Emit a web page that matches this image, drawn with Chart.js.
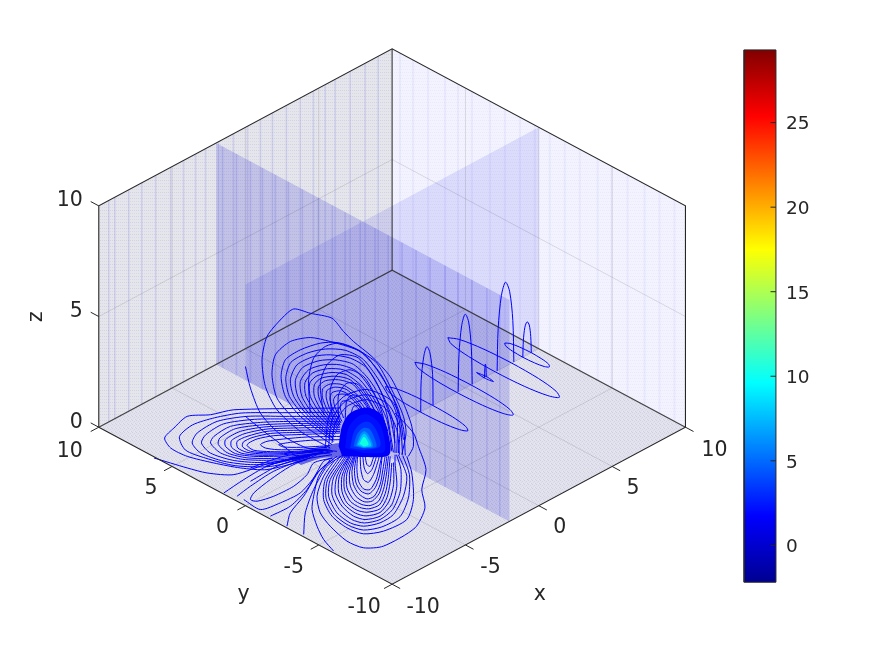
<!DOCTYPE html>
<html><head><meta charset="utf-8">
<style>html,body{margin:0;padding:0;background:#fff}canvas{display:block}</style>
<script src="https://cdn.jsdelivr.net/npm/chart.js@4"></script>
</head><body><canvas id="c" width="891" height="656"></canvas>
<script>
// Axis ticks
const axisTicks=[-10,-5,0,5,10];
const zTicks=[0,5,10];
const colorbarTicks=[0,5,10,15,20,25];
const colorbarRange=[-2.18,29.3];
const colorbarX=[24.0,26.17];
// Slice planes, in data units
const sliceX=-2, sliceY=0;
// Vertical mesh bands seen on each wall / slice
const leftWallBands=[-9.32,-8.91,-7.96,-7.07,-6.12,-5.1,-4.22,-3.4,-2.72,-1.84,-.82,.14,1.02,1.84,2.79,3.74,4.63,5.44,6.12,7.14,8.16,9.05];
const rightWallBands=[9.46,8.57,7.55,6.39,5.51,4.56,3.33,2.31,1.29,.27,-.75,-1.77,-2.79,-4.01,-4.97,-6.05,-7.21,-8.23,-9.25];
const sliceBands=[9.56,8.61,7.66,6.84,5.96,5.07,4.12,3.03,2.08,1.2,.18,-.84,-1.73,-2.68,-3.63,-4.59,-5.61,-6.49,-7.44,-8.46,-9.34];
// Contours, as [x-y, x+y+2.82z] readings
const fanContours=[
[[-4.22,-2.65],[-6.26,-.53],[-7.85,2.22],[-8.64,5.19],[-8.87,8.58],[-8.53,11.55],[-7.51,13.88],[-6.71,15.06],[-5.58,14.51],[-4.1,13.88],[-3.31,12.18],[-2.63,10.91],[-1.38,9],[-.14,6.46],[.77,3.07],[1.34,.11],[1.45,-2.44],[1.11,-3.71]],
[[-10,7.73],[-9.66,4.98],[-8.98,1.8],[-7.73,-.74],[-5.8,-2.65],[-3.76,-3.07]],
[[-4.1,-2.22],[-6.71,1.17],[-7.85,3.71],[-8.19,6.67],[-7.96,9.22],[-6.94,10.91],[-5.58,11.42],[-4.22,10.91],[-2.4,9.85],[-1.04,8.16],[.09,4.34],[.77,1.38],[.95,-.74],[.66,-3.5]],
[[-3.99,-1.8],[-6.26,1.38],[-7.28,3.92],[-7.57,6.46],[-7.28,8.58],[-6.26,9.85],[-4.9,10.7],[-3.76,10.78],[-2.18,9.64],[-.82,6.89],[.2,3.07],[.54,.11],[.43,-3.28]],
[[-3.99,-1.38],[-5.8,1.59],[-6.71,3.92],[-6.94,6.04],[-6.49,7.94],[-5.35,9],[-4.22,9.22],[-2.86,8.8],[-1.72,7.52],[-.59,3.92],[.09,.53],[.2,-3.28]],
[[-3.88,-.95],[-5.35,1.59],[-6.15,3.92],[-6.26,5.83],[-5.69,7.31],[-4.67,7.94],[-3.54,7.94],[-2.4,7.1],[-1.27,4.34],[-.36,.95],[-.02,-3.07]],
[[-3.76,-.53],[-4.9,1.8],[-5.58,3.92],[-5.62,5.61],[-5.12,6.55],[-4.1,6.97],[-3.08,6.67],[-1.95,4.98],[-.82,1.59],[-.25,-2.86]],
[[-3.65,-.11],[-4.56,2.01],[-5.01,3.92],[-5.01,5.19],[-4.56,5.91],[-3.65,6.04],[-2.63,5.4],[-1.5,2.44],[-.48,-2.65]],
[[-3.54,.32],[-4.22,2.22],[-4.49,3.71],[-4.44,4.68],[-3.88,5.11],[-3.08,4.77],[-1.95,2.65],[-.7,-2.44]],
[[-3.42,.74],[-3.88,2.44],[-3.99,3.5],[-3.76,4.13],[-3.08,4.13],[-2.18,2.44],[-.93,-2.22]],
[[-3.31,1.17],[-3.54,2.44],[-3.42,3.28],[-2.86,3.28],[-1.95,1.59],[-1.16,-2.01]],
[[-5.58,1.8],[-5.69,6.04],[-5.35,8.8],[-4.56,10.28],[-3.54,10.7],[-1.95,9.42],[-.59,6.04],[.43,2.22],[.77,-1.59]],
[[-4.67,1.59],[-4.9,5.61],[-4.44,7.94],[-3.54,9.22],[-2.29,8.8],[-1.04,5.61],[-.14,1.38],[.2,-2.01]],
[[-4.1,1.38],[-4.22,4.77],[-3.76,6.67],[-2.86,7.31],[-1.84,6.25],[-.82,2.65],[-.25,-1.59]],
[[-3.65,1.17],[-3.65,4.13],[-3.08,5.61],[-2.29,5.4],[-1.38,2.86],[-.59,-1.17]],
[[-3.2,.95],[-3.08,3.5],[-2.63,4.13],[-1.95,3.5],[-1.04,.53],[-.7,-.74]],
[[-2.86,1.17],[-2.63,2.65],[-2.18,2.65],[-1.38,.11]],
[[-4.1,-2.01],[-3.88,.53],[-3.08,2.65],[-1.72,3.5],[-.48,2.44],[.32,-.32],[.5,-3.5]],
[[-4.33,-2.44],[-4.1,.95],[-3.2,3.28],[-1.72,4.13],[-.25,2.86],[.54,-.11],[.72,-3.5]],
[[-4.56,-2.65],[-4.3,1.4],[-3.3,3.9],[-1.72,4.8],[0,3.3],[.75,.1],[.9,-3.6]],
[[-3.95,-1.6],[-6,1.48],[-7,3.92],[-7.25,6.25],[-6.9,8.26],[-5.8,9.43],[-4.55,9.96],[-3.2,9.8],[-1.95,8.6],[-.7,5.4],[.3,1.7],[.32,-3.28]],
[[-3.94,-1.16],[-5.6,1.59],[-6.43,3.92],[-6.6,5.94],[-6.1,7.6],[-5,8.46],[-3.88,8.58],[-2.63,8],[-1.5,5.9],[-.47,2.4],[.09,-3.2]],
[[-3.82,-.74],[-5.12,1.7],[-5.87,3.92],[-5.94,5.7],[-5.4,6.93],[-4.4,7.45],[-3.3,7.3],[-2.17,6],[-1.05,3],[-.3,-.5]],
[[-3.7,-.3],[-4.73,1.9],[-5.3,3.92],[-5.3,5.4],[-4.85,6.23],[-3.88,6.5],[-2.85,6.03],[-1.72,3.7],[-.65,.5]],
[[-3.6,.1],[-4.39,2.1],[-4.75,3.8],[-4.72,4.93],[-4.22,5.5],[-3.36,5.4],[-2.3,4],[-1.3,1.5]],
[[-3.48,.53],[-4.05,2.33],[-4.24,3.6],[-4.1,4.4],[-3.48,4.62],[-2.6,3.7],[-1.5,1]]
];
const leftLobeContours=[
[[-16.24,-3.92],[-13.97,-5.19],[-12.61,-5.83],[-10.79,-6.04],[-8.3,-4.56],[-5.58,-3.71]],
[[-3.54,2.44],[-10.79,2.22],[-12.38,1.59],[-13.97,1.38],[-14.88,-.11],[-15.51,-1.38],[-15.1,-2.65],[-13.97,-3.71],[-12.15,-4.56],[-10.34,-5.19],[-8.53,-5.4],[-5.8,-4.13]],
[[-3.54,1.38],[-7.39,1.38],[-9.89,1.38],[-11.93,.74],[-13.29,-.74],[-13.63,-2.01],[-13.06,-3.28],[-11.47,-4.34],[-9.66,-4.77],[-7.85,-4.56],[-5.58,-3.5]],
[[-3.54,.74],[-6.94,.74],[-8.98,.61],[-11.02,.11],[-12.15,-1.17],[-12.38,-2.01],[-11.7,-3.28],[-10.34,-4.05],[-8.75,-4.22],[-6.94,-4.05],[-5.12,-3.37]],
[[-3.54,.32],[-6.71,.19],[-8.75,.02],[-10.34,-.53],[-11.36,-1.59],[-11.36,-2.44],[-10.68,-3.37],[-9.43,-3.71],[-8.07,-3.71],[-6.49,-3.62],[-4.67,-3.2]],
[[-3.54,-.32],[-6.71,-.4],[-8.53,-.53],[-9.89,-1.17],[-10.57,-1.8],[-10.52,-2.65],[-9.89,-3.2],[-8.75,-3.41],[-7.39,-3.37],[-4.67,-2.94]],
[[-3.54,-.74],[-6.49,-.95],[-8.07,-1.08],[-9.21,-1.5],[-9.77,-2.01],[-9.89,-2.35],[-9.43,-2.94],[-8.3,-3.11],[-6.94,-3.11],[-4.44,-2.78]],
[[-3.54,-1.17],[-5.8,-1.25],[-7.39,-1.5],[-8.53,-1.8],[-8.98,-2.22],[-8.64,-2.65],[-7.85,-2.86],[-6.49,-2.86],[-4.44,-2.56]],
[[-3.54,-1.59],[-5.58,-1.67],[-6.94,-1.93],[-7.73,-2.22],[-7.39,-2.52],[-6.26,-2.56],[-4.22,-2.35]],
[[-10,1.38],[-8.75,-.53],[-7.39,-2.44],[-6.26,-4.13]],
[[-3.54,1.9],[-7.5,1.85],[-10.3,1.8],[-12.1,1.2],[-13.6,.3],[-14.5,-1.2],[-14.1,-2.9],[-12.7,-3.95],[-10.7,-4.9],[-8.3,-5],[-5.7,-3.8]],
[[-3.54,1.05],[-7.2,1.05],[-9.4,1],[-11.5,.42],[-12.7,-.95],[-13,-2],[-12.4,-3.28],[-10.9,-4.2],[-9.2,-4.5],[-7.4,-4.3],[-5.35,-3.45]],
[[-3.54,.53],[-6.8,.46],[-8.85,.3],[-10.7,-.2],[-11.75,-1.38],[-11.85,-2.2],[-11.2,-3.3],[-9.9,-3.9],[-8.4,-3.98],[-6.7,-3.85],[-4.9,-3.3]],
[[-3.54,0],[-6.7,-.1],[-8.6,-.25],[-10.1,-.85],[-10.95,-1.7],[-10.95,-2.55],[-10.3,-3.3],[-9.15,-3.56],[-7.7,-3.54],[-4.67,-3.07]],
[[-3.54,-.53],[-6.6,-.67],[-8.3,-.8],[-9.55,-1.33],[-10.15,-1.9],[-10.2,-2.5],[-9.65,-3.07],[-8.5,-3.26],[-7.1,-3.24],[-4.55,-2.86]]
];
const sideLobeContours=[
[[-4.1,-3.92],[-5.35,-4.56],[-5.8,-6.04],[-6.71,-7.52],[-8.07,-8.79],[-9.21,-9.43],[-9.66,-9.22],[-9.43,-8.37],[-8.3,-6.67],[-6.94,-4.98],[-5.12,-3.5]],
[[-11.47,-8.37],[-10.11,-6.67],[-8.53,-4.98],[-6.26,-3.71],[-4.22,-3.28]],
[[-10.11,-9.22],[-8.98,-10.49],[-7.62,-9.64],[-6.26,-8.37],[-5.35,-6.46],[-4.67,-4.34],[-4.04,-3.92]],
[[-10.57,-8.79],[-9.66,-7.52],[-8.07,-5.61],[-6.03,-4.13],[-4.1,-3.5]],
[[-8.3,-11.33],[-6.94,-10.06],[-5.8,-7.94],[-5.12,-5.83],[-3.99,-4.05]],
[[-7.17,-12.61],[-6.94,-10.91],[-6.03,-8.79],[-4.9,-5.4],[-3.76,-3.71]],
[[-6.03,-13.66],[-5.92,-10.91],[-5.35,-7.94],[-4.44,-4.98],[-3.42,-3.62]],
[[-9.66,-5.19],[-7.39,-3.71],[-4.22,-2.78]],
[[-8.64,-4.98],[-6.71,-3.92],[-4.1,-2.99]],
[[-9.66,-6.89],[-7.85,-4.98],[-5.8,-3.71],[-4.04,-3.11]]
];
const bottomLobeContours=[
[[.2,1.8],[1.45,-.74],[1.79,-2.44],[2.31,-5.4],[2.02,-7.94],[2.24,-10.28],[1.56,-12.82],[-.59,-15.15],[-1.95,-15.36],[-3.08,-14.51],[-4.22,-12.61],[-4.9,-10.91],[-5.12,-8.79],[-4.67,-6.25],[-3.88,-4.13]],
[[-3.99,-15.78],[-4.67,-14.3],[-5.12,-12.61],[-5.46,-10.49],[-5.35,-8.79],[-5.01,-6.25],[-4.22,-4.13]],
[[-3.54,-3.71],[-4.56,-6.67],[-4.67,-9.22],[-4.1,-11.33],[-3.08,-12.82],[-1.95,-13.58],[-.59,-13.24],[1,-11.76],[1.45,-9.22],[1.34,-5.83],[1,-3.71]],
[[-3.2,-3.71],[-4.22,-6.67],[-4.33,-8.79],[-3.76,-10.91],[-2.86,-12.18],[-1.95,-12.61],[-.82,-12.18],[.09,-11.12],[.77,-8.79],[1,-6.25],[.43,-3.5]],
[[-2.97,-3.71],[-3.76,-6.25],[-3.88,-8.37],[-3.42,-10.06],[-2.63,-11.33],[-1.84,-11.76],[-.82,-11.33],[-.02,-9.85],[.32,-7.52],[.2,-4.56],[.2,-3.5]],
[[-2.86,-3.71],[-3.42,-6.25],[-3.42,-8.16],[-3.08,-9.64],[-2.4,-10.57],[-1.72,-10.83],[-.82,-10.4],[-.36,-9],[-.14,-7.1],[-.02,-4.56]],
[[-2.63,-3.71],[-3.08,-5.83],[-3.08,-7.73],[-2.63,-9.22],[-2.06,-9.85],[-1.5,-9.98],[-.93,-9.43],[-.59,-7.94],[-.41,-6.25],[-.25,-3.71]],
[[-2.52,-3.71],[-2.74,-5.61],[-2.63,-7.31],[-2.29,-8.45],[-1.72,-9.13],[-1.22,-8.79],[-.82,-7.31],[-.63,-5.4],[-.48,-3.71]],
[[-2.36,-3.79],[-2.4,-5.4],[-2.29,-6.89],[-1.95,-7.86],[-1.5,-7.94],[-1.09,-6.67],[-.86,-4.98],[-.7,-3.62]],
[[-2.18,-3.71],[-2.13,-5.4],[-1.95,-6.67],[-1.61,-7.01],[-1.27,-6.04],[-1,-4.56],[-.86,-3.62]],
[[-2,-3.71],[-1.9,-5.19],[-1.68,-5.91],[-1.38,-5.4],[-1.13,-4.13],[-1.04,-3.54]],
[[-1.84,-3.71],[-1.72,-4.77],[-1.5,-4.98],[-1.32,-4.13],[-1.22,-3.54]],
[[-3.36,-3.71],[-4.4,-6.67],[-4.51,-9],[-3.95,-11.12],[-2.97,-12.5],[-1.95,-13.1],[-.7,-12.7],[.54,-11.4],[1.11,-9],[1.18,-6.04],[.73,-3.62]],
[[-3.08,-3.71],[-4,-6.46],[-4.1,-8.6],[-3.6,-10.5],[-2.75,-11.76],[-1.9,-12.2],[-.82,-11.76],[.03,-10.5],[.55,-8.2],[.6,-5.4],[.3,-3.5]],
[[-2.92,-3.71],[-3.6,-6.25],[-3.65,-8.26],[-3.25,-9.85],[-2.5,-10.95],[-1.78,-11.3],[-.82,-10.86],[-.2,-9.4],[.1,-7.3],[.1,-4.5]],
[[-2.75,-3.71],[-3.25,-6.04],[-3.25,-7.95],[-2.85,-9.43],[-2.23,-10.2],[-1.6,-10.4],[-.87,-9.9],[-.47,-8.45],[-.28,-6.7],[-.13,-3.71]],
[[-2.57,-3.71],[-2.9,-5.7],[-2.85,-7.5],[-2.45,-8.85],[-1.9,-9.5],[-1.35,-9.4],[-.87,-8.4],[-.6,-6.6],[-.45,-5],[-.36,-3.71]],
[[-2.44,-3.75],[-2.57,-5.5],[-2.46,-7.1],[-2.12,-8.15],[-1.6,-8.5],[-1.15,-7.7],[-.84,-6.1],[-.68,-3.7]]
];
// Filled dense core: outer to inner
const denseBand=[[-7.1,-3.9],[-5.12,-2.6],[-2.86,-2.01],[-2.86,-3.71],[-4.67,-3.9],[-6.2,-4.8]];
const coreLevels=[
[[-3.65,-2.44],[-3.42,.11],[-2.86,1.8],[-1.72,2.5],[-.8,1.7],[-.3,-.53],[-.2,-3.5],[-1.95,-3.79],[-3.4,-3.71]],
[[-3.2,-2.65],[-2.97,-.11],[-2.29,1.38],[-1.61,1.59],[-.82,.32],[-.48,-2.01],[-.59,-3.2],[-1.95,-3.28]],
[[-2.86,-2.65],[-2.59,-.53],[-2.06,.53],[-1.5,.61],[-1.04,-.53],[-.82,-2.44],[-1.95,-2.94]],
[[-2.63,-2.44],[-2.4,-.95],[-1.95,-.11],[-1.5,-.32],[-1.16,-1.59],[-1.09,-2.52],[-1.95,-2.69]],
[[-2.45,-2.35],[-2.18,-.95],[-1.9,-.53],[-1.61,-.95],[-1.32,-2.44],[-1.95,-2.65]],
[[-2.36,-2.22],[-2.06,-1.08],[-1.88,-.83],[-1.68,-1.25],[-1.43,-2.35],[-1.95,-2.56]],
[[-2.22,-2.1],[-1.95,-1.25],[-1.81,-1.38],[-1.61,-2.22],[-1.95,-2.44]]
];
const coreColors=['#0000f8','#0010ff','#0030ff','#0060ff','#0090ff','#00c8ff','#10ffe0'];
// Floor ellipses [x,y] and their upright arches [x,z] in the y=0 slice
const floorEllipses=[
[[2.35,2.81],[2.56,2.44],[2.72,1.4],[2.77,0],[2.72,-1.4],[2.56,-2.44],[2.35,-2.81],[2.14,-2.44],[1.98,-1.4],[1.93,0],[1.98,1.4],[2.14,2.44],[2.35,2.81]],
[[4.9,3.35],[5.14,2.91],[5.32,1.68],[5.38,0],[5.32,-1.68],[5.14,-2.91],[4.9,-3.35],[4.66,-2.91],[4.48,-1.68],[4.42,0],[4.48,1.68],[4.66,2.91],[4.9,3.35]],
[[7.6,3.8],[7.88,3.3],[8.09,1.9],[8.16,0],[8.09,-1.9],[7.88,-3.3],[7.6,-3.8],[7.32,-3.3],[7.11,-1.9],[7.04,0],[7.11,1.9],[7.32,3.3],[7.6,3.8]],
[[9.2,1.52],[9.35,1.32],[9.45,.76],[9.49,0],[9.45,-.76],[9.35,-1.32],[9.2,-1.52],[9.05,-1.32],[8.95,-.76],[8.91,0],[8.95,.76],[9.05,1.32],[9.2,1.52]],
[[6.36,.6],[6.44,0],[6.36,-.55],[6.28,0],[6.36,.6]]
];
const sliceArches=[
[[1.95,0],[1.98,1.4],[2.16,2.44],[2.37,2.8],[2.58,2.44],[2.76,1.4],[2.79,0]],
[[4.5,0],[4.56,1.67],[4.74,2.9],[4.98,3.34],[5.22,2.9],[5.4,1.67],[5.46,0]],
[[7.16,0],[7.23,1.9],[7.45,3.3],[7.73,3.81],[8.01,3.3],[8.23,1.9],[8.3,0]],
[[8.91,0],[8.95,.75],[9.05,1.3],[9.2,1.5],[9.35,1.3],[9.45,.75],[9.49,0]],
[[6.3,0],[6.32,.4],[6.36,.6],[6.4,.4],[6.42,0]]
];

const zStretch=2.819;
const pt=(x,y,z=0)=>({x:x-y,y:x+y+zStretch*z});
const read=([d,v])=>({x:d,y:v});
function tile(w,h,base,dots){
  const c=document.createElement('canvas');c.width=w;c.height=h;
  const g=c.getContext('2d');g.fillStyle=base;g.fillRect(0,0,w,h);
  dots.forEach(([x,y,col])=>{g.fillStyle=col;g.fillRect(x,y,1,1);});
  return g.createPattern(c,'repeat');
}
const floorFill=tile(4,4,'#e2e2ed',[[0,0,'#cfcfe6'],[2,1,'#d3d3e8'],[1,2,'#d8d8ea'],[3,3,'#cfcfe6'],[2,3,'#e8e8ee']]);
const leftFill=tile(4,6,'#e5e5ec',[[0,0,'#d2d2e4'],[2,0,'#d2d2e4'],[0,3,'#d8d8e8'],[2,3,'#d8d8e8']]);
const rightFill=tile(4,6,'#f3f3ff',[[0,0,'#e9e9fa'],[2,0,'#e9e9fa'],[1,3,'#ebebfb'],[3,3,'#ebebfb']]);

const ds=[];
const poly=(data,fillColor,tension=0)=>ds.push({data,fill:'shape',backgroundColor:fillColor,borderWidth:0,showLine:true,pointRadius:0,tension});
const line=(data,color,width,tension=0)=>ds.push({data,fill:false,borderColor:color,borderWidth:width,showLine:true,pointRadius:0,tension});

// walls and floor
poly([pt(-10,10,0),pt(10,10,0),pt(10,10,10),pt(-10,10,10)],leftFill);
poly([pt(10,-10,0),pt(10,10,0),pt(10,10,10),pt(10,-10,10)],rightFill);
poly([pt(-10,-10,0),pt(10,-10,0),pt(10,10,0),pt(-10,10,0)],floorFill);
// wall mesh bands
leftWallBands.forEach(x=>line([pt(x,10,0),pt(x,10,10)],'rgba(110,110,215,.2)',1.5));
rightWallBands.forEach(y=>line([pt(10,y,0),pt(10,y,10)],'rgba(110,110,235,.08)',2));
// grid
const gridCol='rgba(60,60,60,.15)';
[-5,0,5].forEach(t=>{
  line([pt(t,-10),pt(t,10)],gridCol,1);
  line([pt(-10,t),pt(10,t)],gridCol,1);
  line([pt(t,10,0),pt(t,10,10)],gridCol,1);
  line([pt(10,t,0),pt(10,t,10)],gridCol,1);
});
line([pt(-10,10,5),pt(10,10,5),pt(10,-10,5)],gridCol,1);
// slices
poly([pt(sliceX,10,0),pt(sliceX,-10,0),pt(sliceX,-10,10),pt(sliceX,10,10)],'rgba(10,10,205,.16)');
sliceBands.forEach(y=>line([pt(sliceX,y,0),pt(sliceX,y,10)],'rgba(50,50,215,.14)',1.6));
poly([pt(-10,sliceY,10),pt(10,sliceY,10),pt(10,sliceY,0),pt(sliceX,sliceY,0),pt(-10,sliceY,5.68)],'rgba(10,10,225,.1)');
// back edges
const edge='#262626';
line([pt(-10,10,0),pt(10,10,0),pt(10,-10,0)],'rgba(38,38,38,.85)',1.2);
line([pt(10,10,0),pt(10,10,10)],edge,1);
// contours
[...fanContours,...leftLobeContours,...sideLobeContours,...bottomLobeContours].forEach(c=>line(c.map(read),'#0000ff',1,.25));
floorEllipses.forEach(c=>line(c.map(([x,y])=>pt(x,y,0)),'#0000ff',1,.3));
sliceArches.forEach(c=>line(c.map(([x,z])=>pt(x,sliceY,z)),'#0000ff',1,.3));
poly(denseBand.map(read),'rgba(0,0,225,.55)',.3);
coreLevels.forEach((c,i)=>poly(c.map(read),coreColors[i],.3));
// front box edges
line([pt(-10,10,0),pt(-10,-10,0),pt(10,-10,0),pt(10,-10,10),pt(10,10,10),pt(-10,10,10),pt(-10,10,0)],edge,1.1);
// ticks
const tickX=.55;
axisTicks.forEach(t=>{
  line([pt(t,-10),pt(t,-10-tickX)],edge,1);
  line([pt(-10,t),pt(-10-tickX,t)],edge,1);
});
zTicks.forEach(t=>line([pt(-10,10,t),pt(-10,10+tickX,t)],edge,1));
// colorbar
const jet=[[0,'#000090'],[.125,'#0000ff'],[.375,'#00ffff'],[.625,'#ffff00'],[.875,'#ff0000'],[1,'#800000']];
const colorbarDs={yAxisID:'cb',data:[{x:colorbarX[0],y:colorbarRange[0]},{x:colorbarX[1],y:colorbarRange[0]},{x:colorbarX[1],y:colorbarRange[1]},{x:colorbarX[0],y:colorbarRange[1]},{x:colorbarX[0],y:colorbarRange[0]}],
  fill:'shape',borderColor:edge,borderWidth:1,showLine:true,pointRadius:0,tension:0,backgroundColor:'#00f'};
ds.push(colorbarDs);
colorbarTicks.forEach(t=>ds.push({yAxisID:'cb',data:[{x:colorbarX[1]-.37,y:t},{x:colorbarX[1],y:t}],borderColor:edge,borderWidth:1,showLine:true,pointRadius:0,fill:false}));

// later entries paint on top
ds.forEach((d,i)=>{d.order=ds.length-i;});

const textCol='#262626';
const axisLabels={
  id:'axisLabels',
  afterDraw(ch){
    const {ctx,scales:{x:sx,y:sy,cb}}=ch;
    const put=(s,p,dx,dy,align='center')=>{ctx.textAlign=align;ctx.fillText(s,sx.getPixelForValue(p.x)+dx,sy.getPixelForValue(p.y)+dy);};
    ctx.save();ctx.fillStyle=textCol;ctx.textBaseline='middle';ctx.font='20.5px "DejaVu Sans"';
    const yOff={'-10':[-28,23],'-5':[-25,23],'0':[-23,22],'5':[-21,22],'10':[-29,24]};
    const xOff={'-10':[31,23],'-5':[25,23],'0':[21,22],'5':[21,22],'10':[29,23]};
    axisTicks.forEach(t=>{
      put(String(t),pt(-10,t),yOff[t][0],yOff[t][1]);
      put(String(t),pt(t,-10),xOff[t][0],xOff[t][1]);
    });
    zTicks.forEach(t=>put(String(t),pt(-10,10,t),-16,-5,'right'));
    put('x',pt(0,-10),1,89);
    put('y',pt(-10,0),-2,89);
    const zp=pt(-10,10,5);
    ctx.translate(sx.getPixelForValue(zp.x)-62,sy.getPixelForValue(zp.y));
    ctx.rotate(-Math.PI/2);ctx.textAlign='center';ctx.fillText('z',0,0);
    ctx.setTransform(1,0,0,1,0,0);
    ctx.font='18.5px "DejaVu Sans"';ctx.textAlign='left';
    colorbarTicks.forEach(t=>ctx.fillText(String(t),sx.getPixelForValue(colorbarX[1])+10,cb.getPixelForValue(t)+2));
    ctx.restore();
  }
};

const chart=new Chart(document.getElementById('c'),{
  type:'scatter',
  data:{datasets:ds},
  options:{
    responsive:false,animation:false,
    layout:{padding:0},
    clip:false,
    plugins:{legend:{display:false},tooltip:{enabled:false}},
    scales:{
      x:{type:'linear',display:false,min:-26.667,max:33.946},
      y:{type:'linear',display:false,min:-29.016,max:54.286},
      cb:{type:'linear',display:false,min:-6.486,max:32.193}
    }
  },
  plugins:[axisLabels]
});
const cbScale=chart.scales.cb;
const cbGrad=chart.ctx.createLinearGradient(0,cbScale.getPixelForValue(colorbarRange[0]),0,cbScale.getPixelForValue(colorbarRange[1]));
jet.forEach(([p,col])=>cbGrad.addColorStop(p,col));
colorbarDs.backgroundColor=cbGrad;
chart.update('none');
</script></body></html>
